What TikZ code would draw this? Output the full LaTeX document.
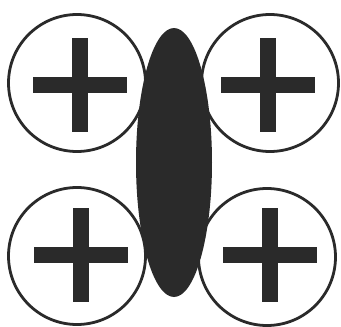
\documentclass[tikz,border=0pt]{standalone}
\usetikzlibrary{shapes.geometric}
\definecolor{ink}{HTML}{2A2A2A}
\begin{document}
\begin{tikzpicture}[x=1pt,y=-1pt,
  ring/.style={circle,draw=ink,line width=2.8pt,fill=white,minimum size=137pt,inner sep=0pt},
  bar/.style={fill=ink},
  blob/.style={ellipse,fill=ink,minimum width=76pt,minimum height=269pt,inner sep=0pt}]
\useasboundingbox (0,0) rectangle (341,327);
\node[ring] (tl) at (77,83) {};
\node[ring] (tr) at (270,83) {};
\node[ring] (bl) at (77,256) {};
\node[ring] (br) at (267,257) {};
\foreach \n/\cx/\cy in {ptl/80/85, ptr/268/85, pbl/81/255, pbr/270/255}{
  \fill[bar] (\cx-47,\cy-8) rectangle (\cx+47,\cy+8);
  \fill[bar] (\cx-8,\cy-47) rectangle (\cx+8,\cy+47);
}
\node[blob] (mid) at (174,162.5) {};
\end{tikzpicture}
\end{document}
